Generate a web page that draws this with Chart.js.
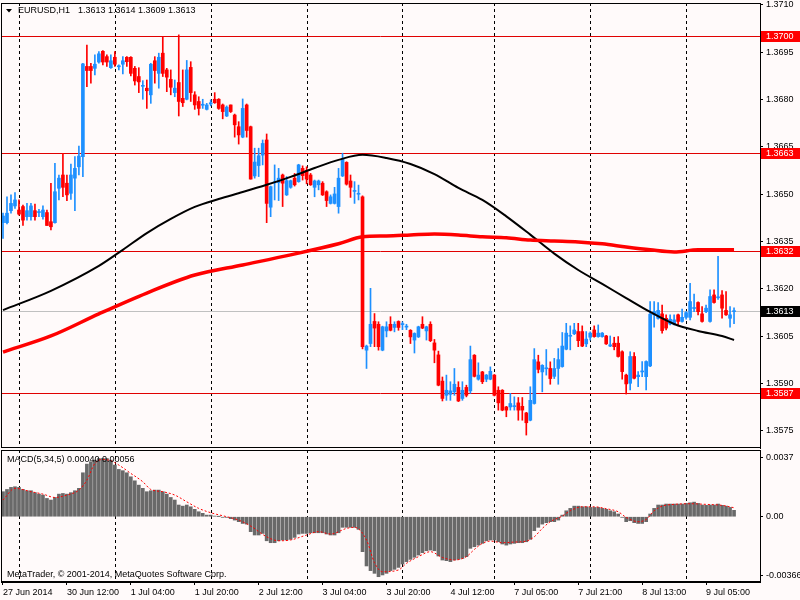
<!DOCTYPE html>
<html lang="en">
<head>
<meta charset="UTF-8">
<title>EURUSD,H1</title>
<script src="https://cdn.jsdelivr.net/npm/chart.js"></script>
<style>
  html, body { margin: 0; padding: 0; background: #fffafa; }
  #wrap { position: relative; width: 800px; height: 600px; background: #fffafa; overflow: hidden; }
  canvas { position: absolute; left: 0; }
  #priceChart { top: 0; }
  #macdChart { top: 448px; }
</style>
</head>
<body>
<div id="wrap">
  <canvas id="priceChart" width="800" height="450"></canvas>
  <canvas id="macdChart" width="800" height="152"></canvas>
</div>
<script>
// hourly candles, 27 Jun 20:00 .. 9 Jul 11:00
const opens = [
  1.36410,1.36410,1.36448,1.36463,1.36450,1.36461,1.36429,1.36429,1.36448,1.36442,
  1.36429,1.36442,1.36413,1.36410,1.36519,1.36561,1.36535,1.36503,1.36551,1.36587,
  1.36619,1.36905,1.36905,1.36899,1.36919,1.36953,1.36936,1.36901,1.36934,1.36904,
  1.36912,1.36934,1.36934,1.36899,1.36873,1.36842,1.36836,1.36815,1.36923,1.36883,
  1.36947,1.36894,1.36864,1.36822,1.36854,1.36804,1.36801,1.36902,1.36815,1.36794,
  1.36782,1.36769,1.36786,1.36801,1.36801,1.36783,1.36748,1.36783,1.36751,1.36714,
  1.36681,1.36783,1.36714,1.36558,1.36591,1.36624,1.36672,1.36459,1.36536,1.36537,
  1.36561,1.36498,1.36522,1.36551,1.36540,1.36582,1.36575,1.36561,1.36522,1.36530,
  1.36535,1.36508,1.36471,1.36471,1.36461,1.36558,1.36601,1.36542,1.36509,1.36500,
  1.36492,1.36006,1.36027,1.36097,1.36088,1.36006,1.36067,1.36088,1.36078,1.36097,
  1.36087,1.36079,1.36069,1.36038,1.36048,1.36088,1.36067,1.36088,1.36029,1.35991,
  1.35908,1.35863,1.35866,1.35874,1.35888,1.35853,1.35888,1.35877,1.35990,1.35914,
  1.35937,1.35914,1.35914,1.35927,1.35879,1.35879,1.35826,1.35826,1.35827,1.35839,
  1.35828,1.35807,1.35784,1.35837,1.35969,1.35937,1.35947,1.35948,1.35923,1.35948,
  1.35954,1.36009,1.36050,1.36058,1.36065,1.36065,1.36026,1.36047,1.36070,1.36049,
  1.36049,1.36051,1.36019,1.36028,1.36028,1.36001,1.35927,1.35901,1.35986,1.35922,
  1.35937,1.35922,1.35956,1.36118,1.36107,1.36121,1.36107,1.36089,1.36089,1.36118,
  1.36097,1.36110,1.36110,1.36138,1.36157,1.36121,1.36128,1.36097,1.36181,1.36172,
  1.36181,1.36132,1.36107,1.36128
];
const highs = [
  1.36440,1.36492,1.36498,1.36505,1.36482,1.36466,1.36471,1.36471,1.36469,1.36452,
  1.36463,1.36450,1.36535,1.36598,1.36561,1.36630,1.36561,1.36596,1.36619,1.36653,
  1.36915,1.36973,1.36915,1.36942,1.36952,1.36955,1.36942,1.36942,1.36952,1.36910,
  1.36936,1.36936,1.36936,1.36905,1.36901,1.36860,1.36862,1.36915,1.36936,1.36947,
  1.36998,1.36899,1.36894,1.36862,1.37005,1.36894,1.36924,1.36920,1.36825,1.36809,
  1.36801,1.36788,1.36799,1.36822,1.36803,1.36786,1.36780,1.36783,1.36754,1.36730,
  1.36802,1.36786,1.36716,1.36646,1.36646,1.36672,1.36691,1.36526,1.36593,1.36582,
  1.36564,1.36556,1.36545,1.36566,1.36595,1.36590,1.36587,1.36566,1.36545,1.36545,
  1.36540,1.36511,1.36498,1.36522,1.36582,1.36630,1.36603,1.36561,1.36540,1.36529,
  1.36495,1.36022,1.36202,1.36122,1.36096,1.36082,1.36096,1.36112,1.36096,1.36099,
  1.36096,1.36088,1.36071,1.36061,1.36082,1.36112,1.36082,1.36096,1.36040,1.36003,
  1.35921,1.35927,1.35906,1.35948,1.35906,1.35906,1.35895,1.36019,1.35992,1.35966,
  1.35939,1.35929,1.35953,1.35929,1.35890,1.35881,1.35828,1.35869,1.35858,1.35856,
  1.35856,1.35809,1.35890,1.36011,1.35990,1.35960,1.36008,1.35969,1.35980,1.36011,
  1.36062,1.36091,1.36083,1.36091,1.36091,1.36083,1.36065,1.36064,1.36083,1.36086,
  1.36062,1.36053,1.36051,1.36047,1.36049,1.36004,1.35930,1.36001,1.35998,1.35938,
  1.35970,1.35972,1.36160,1.36160,1.36157,1.36149,1.36118,1.36118,1.36118,1.36120,
  1.36136,1.36128,1.36218,1.36184,1.36159,1.36144,1.36149,1.36197,1.36197,1.36303,
  1.36195,1.36192,1.36144,1.36140
];
const lows = [
  1.36360,1.36406,1.36440,1.36455,1.36434,1.36401,1.36418,1.36418,1.36418,1.36429,
  1.36421,1.36401,1.36387,1.36408,1.36482,1.36492,1.36480,1.36484,1.36448,1.36561,
  1.36556,1.36841,1.36852,1.36878,1.36915,1.36910,1.36905,1.36899,1.36905,1.36894,
  1.36881,1.36905,1.36875,1.36846,1.36822,1.36801,1.36772,1.36788,1.36852,1.36836,
  1.36873,1.36825,1.36815,1.36809,1.36748,1.36778,1.36799,1.36794,1.36769,1.36751,
  1.36772,1.36767,1.36780,1.36788,1.36769,1.36739,1.36746,1.36759,1.36681,1.36659,
  1.36679,1.36681,1.36548,1.36551,1.36556,1.36593,1.36410,1.36429,1.36482,1.36480,
  1.36461,1.36496,1.36519,1.36526,1.36538,1.36545,1.36533,1.36528,1.36492,1.36514,
  1.36496,1.36461,1.36469,1.36469,1.36440,1.36556,1.36529,1.36490,1.36471,1.36482,
  1.36010,1.35948,1.36017,1.36017,1.36006,1.36004,1.36048,1.36067,1.36064,1.36069,
  1.36071,1.36071,1.36027,1.35997,1.36046,1.36074,1.36038,1.36033,1.35966,1.35893,
  1.35845,1.35847,1.35847,1.35863,1.35843,1.35847,1.35858,1.35869,1.35921,1.35911,
  1.35900,1.35906,1.35912,1.35861,1.35816,1.35814,1.35795,1.35816,1.35816,1.35784,
  1.35784,1.35737,1.35782,1.35835,1.35934,1.35874,1.35927,1.35898,1.35916,1.35898,
  1.35952,1.36007,1.36007,1.36055,1.36017,1.36017,1.36017,1.36038,1.36047,1.36047,
  1.36047,1.36024,1.36017,1.36007,1.35984,1.35914,1.35867,1.35880,1.35915,1.35890,
  1.35922,1.35880,1.35954,1.36079,1.36104,1.36060,1.36070,1.36086,1.36086,1.36086,
  1.36095,1.36104,1.36102,1.36128,1.36118,1.36095,1.36125,1.36095,1.36155,1.36167,
  1.36107,1.36116,1.36079,1.36090
];
const closes = [
  1.36431,1.36440,1.36471,1.36482,1.36437,1.36418,1.36448,1.36463,1.36429,1.36445,
  1.36450,1.36401,1.36397,1.36508,1.36551,1.36522,1.36498,1.36561,1.36582,1.36621,
  1.36913,1.36892,1.36892,1.36912,1.36945,1.36919,1.36919,1.36923,1.36912,1.36906,
  1.36923,1.36920,1.36883,1.36859,1.36856,1.36844,1.36828,1.36912,1.36892,1.36934,
  1.36883,1.36871,1.36839,1.36836,1.36794,1.36790,1.36894,1.36822,1.36783,1.36772,
  1.36784,1.36783,1.36790,1.36790,1.36772,1.36762,1.36776,1.36762,1.36720,1.36688,
  1.36772,1.36702,1.36548,1.36602,1.36622,1.36661,1.36471,1.36524,1.36538,1.36551,
  1.36535,1.36543,1.36543,1.36530,1.36593,1.36559,1.36548,1.36530,1.36542,1.36542,
  1.36498,1.36480,1.36492,1.36501,1.36551,1.36611,1.36532,1.36522,1.36511,1.36502,
  1.36017,1.36019,1.36088,1.36076,1.36017,1.36080,1.36080,1.36069,1.36088,1.36078,
  1.36089,1.36081,1.36048,1.36059,1.36080,1.36076,1.36080,1.36036,1.36006,1.35895,
  1.35853,1.35879,1.35877,1.35898,1.35845,1.35879,1.35863,1.35976,1.35923,1.35927,
  1.35906,1.35927,1.35939,1.35863,1.35839,1.35816,1.35816,1.35837,1.35829,1.35816,
  1.35816,1.35776,1.35847,1.35976,1.35945,1.35958,1.35949,1.35916,1.35948,1.35976,
  1.36019,1.36060,1.36052,1.36070,1.36036,1.36019,1.36041,1.36060,1.36049,1.36060,
  1.36060,1.36026,1.36023,1.36017,1.35986,1.35938,1.35899,1.35986,1.35917,1.35927,
  1.35939,1.35970,1.36120,1.36128,1.36132,1.36068,1.36076,1.36104,1.36102,1.36097,
  1.36110,1.36125,1.36160,1.36140,1.36128,1.36097,1.36139,1.36176,1.36157,1.36174,
  1.36139,1.36118,1.36118,1.36131
];

// moving averages read at sampled bars
const maBlackBars = [0,12,24,30,36,42,48,54,60,66,72,78,84,90,96,102,108,114,120,126,132,138,144,150,156,162,168,174,180,183];
const maBlackValues = [1.36133,1.36194,1.36273,1.36324,1.36377,1.36422,1.36460,1.36485,1.36507,1.36530,1.36555,1.36583,1.36609,1.36625,1.36615,1.36596,1.36564,1.36520,1.36482,1.36430,1.36372,1.36312,1.36260,1.36216,1.36171,1.36127,1.36089,1.36067,1.36051,1.36038];
const maRedBars = [0,12,24,36,48,60,72,84,90,96,102,108,114,120,126,132,138,144,150,156,162,168,174,180,183];
const maRedValues = [1.36000,1.36051,1.36121,1.36187,1.36244,1.36276,1.36308,1.36343,1.36365,1.36368,1.36371,1.36374,1.36371,1.36365,1.36362,1.36355,1.36352,1.36349,1.36343,1.36333,1.36324,1.36317,1.36324,1.36324,1.36324];

// MACD(5,34,5)
const macdMain = [
  0.00156,0.00170,0.00183,0.00187,0.00183,0.00170,0.00162,0.00162,0.00150,0.00141,
  0.00135,0.00114,0.00104,0.00120,0.00141,0.00145,0.00141,0.00150,0.00162,0.00177,
  0.00274,0.00328,0.00343,0.00353,0.00363,0.00363,0.00363,0.00353,0.00322,0.00295,
  0.00287,0.00274,0.00249,0.00224,0.00197,0.00177,0.00156,0.00162,0.00166,0.00166,
  0.00156,0.00141,0.00120,0.00104,0.00073,0.00066,0.00073,0.00062,0.00046,0.00031,
  0.00021,0.00010,0.00010,0.00004,0.00001,-0.00004,-0.00004,-0.00012,-0.00021,-0.00031,
  -0.00042,-0.00046,-0.00093,-0.00114,-0.00114,-0.00104,-0.00150,-0.00162,-0.00162,-0.00150,
  -0.00145,-0.00145,-0.00141,-0.00129,-0.00108,-0.00104,-0.00104,-0.00100,-0.00100,-0.00100,
  -0.00100,-0.00108,-0.00114,-0.00114,-0.00100,-0.00066,-0.00066,-0.00066,-0.00066,-0.00079,
  -0.00218,-0.00307,-0.00336,-0.00353,-0.00374,-0.00363,-0.00353,-0.00336,-0.00328,-0.00316,
  -0.00295,-0.00280,-0.00266,-0.00253,-0.00239,-0.00224,-0.00212,-0.00208,-0.00212,-0.00245,
  -0.00270,-0.00274,-0.00280,-0.00270,-0.00266,-0.00260,-0.00249,-0.00197,-0.00187,-0.00177,
  -0.00166,-0.00150,-0.00145,-0.00145,-0.00156,-0.00170,-0.00177,-0.00170,-0.00166,-0.00162,
  -0.00162,-0.00156,-0.00141,-0.00087,-0.00066,-0.00046,-0.00037,-0.00031,-0.00031,-0.00021,
  0.00010,0.00037,0.00052,0.00066,0.00066,0.00062,0.00062,0.00058,0.00058,0.00058,
  0.00052,0.00046,0.00037,0.00031,0.00017,-0.00004,-0.00031,-0.00025,-0.00037,-0.00042,
  -0.00042,-0.00031,0.00017,0.00052,0.00073,0.00073,0.00079,0.00079,0.00079,0.00079,
  0.00079,0.00083,0.00087,0.00091,0.00083,0.00073,0.00071,0.00073,0.00073,0.00079,
  0.00071,0.00066,0.00058,0.00040
];
const signalBars = [0,3,7,10,13,16,19,21,23,25,27,29,32,35,37,40,43,46,49,52,56,59,62,66,69,72,76,79,82,86,88,91,93,95,99,101,104,107,110,113,116,118,120,122,125,128,131,133,135,137,140,142,145,148,151,154,156,159,161,163,165,168,172,176,180,183];
const signalValues = [0.00104,0.00177,0.00156,0.00141,0.00120,0.00135,0.00166,0.00228,0.00332,0.00357,0.00349,0.00322,0.00270,0.00218,0.00170,0.00156,0.00135,0.00093,0.00052,0.00025,0.00000,-0.00021,-0.00058,-0.00125,-0.00150,-0.00145,-0.00114,-0.00093,-0.00108,-0.00073,-0.00066,-0.00145,-0.00287,-0.00343,-0.00332,-0.00291,-0.00249,-0.00218,-0.00254,-0.00270,-0.00249,-0.00204,-0.00166,-0.00152,-0.00162,-0.00158,-0.00152,-0.00125,-0.00073,-0.00031,0.00004,0.00037,0.00062,0.00062,0.00050,0.00031,-0.00004,-0.00031,-0.00017,0.00037,0.00066,0.00077,0.00081,0.00077,0.00071,0.00056];

// axes
const timeTickBars = [0,16,32,48,64,80,96,112,128,144,160,176];
const timeTickLabels = ['27 Jun 2014','30 Jun 12:00','1 Jul 04:00','1 Jul 20:00','2 Jul 12:00','3 Jul 04:00','3 Jul 20:00','4 Jul 12:00','7 Jul 05:00','7 Jul 21:00','8 Jul 13:00','9 Jul 05:00'];
const dayStartBars = [4,28,52,76,100,123,147,171];
const priceTicks = [1.3575,1.3590,1.3605,1.3620,1.3635,1.3650,1.3665,1.3680,1.3695,1.3710];
const macdTicks = [-0.00366,0,0.0037];
const macdTickLabels = ['-0.00366','0.00','0.0037'];
const levelLines = [1.3700,1.3663,1.3632,1.3587];
const lastPrice = 1.3613;

const slotCount = 190; // room on the right like the terminal shift
const N = opens.length;
const labels = [];
for (let i = 0; i < slotCount; i++) labels.push(i);

const FONT = '9px "Liberation Sans", Arial, sans-serif';
const BULL = '#1e90ff', BEAR = '#ff0000';
const candleColors = opens.map((o, i) => closes[i] > o ? BULL : BEAR);

function sparse(bars, values) {
  const arr = new Array(N).fill(null);
  bars.forEach((b, k) => { arr[b] = values[k]; });
  return arr;
}

function dayLines(chart) {
  const { ctx, chartArea, scales } = chart;
  ctx.save();
  ctx.strokeStyle = '#000';
  ctx.lineWidth = 1;
  ctx.setLineDash([3, 3]);
  dayStartBars.forEach(b => {
    const px = Math.round(scales.x.getPixelForValue(b)) + 0.5;
    ctx.beginPath();
    ctx.moveTo(px, chartArea.top);
    ctx.lineTo(px, chartArea.bottom);
    ctx.stroke();
  });
  ctx.restore();
}

function frame(chart) {
  const { ctx, chartArea: a } = chart;
  ctx.save();
  ctx.strokeStyle = '#000';
  ctx.lineWidth = 1;
  ctx.strokeRect(a.left + 0.5, a.top + 0.5, a.right - a.left, a.bottom - a.top - 1);
  ctx.restore();
}

function fixAxisWidth(scale) {
  scale.width = 40;
  scale.paddingTop = 0;
  scale.paddingBottom = 0;
}

const pricePlugin = {
  id: 'priceDecor',
  beforeDatasetsDraw(chart) {
    const { ctx, chartArea: a, scales: { y } } = chart;
    dayLines(chart);
    ctx.save();
    ctx.lineWidth = 1;
    ctx.strokeStyle = '#c0c0c0';
    let py = Math.round(y.getPixelForValue(lastPrice)) + 0.5;
    ctx.beginPath(); ctx.moveTo(a.left, py); ctx.lineTo(a.right, py); ctx.stroke();
    ctx.strokeStyle = '#e00000';
    levelLines.forEach(v => {
      py = Math.round(y.getPixelForValue(v)) + 0.5;
      ctx.beginPath(); ctx.moveTo(a.left, py); ctx.lineTo(a.right, py); ctx.stroke();
    });
    ctx.restore();
  },
  afterDraw(chart) {
    const { ctx, scales: { y } } = chart;
    frame(chart);
    ctx.save();
    ctx.font = FONT;
    ctx.textBaseline = 'middle';
    const box = (v, bg) => {
      const py = Math.round(y.getPixelForValue(v));
      ctx.fillStyle = bg;
      ctx.fillRect(761, py - 5, 39, 11);
      ctx.fillStyle = '#fff';
      ctx.fillText(v.toFixed(4), 766, py + 0.5);
    };
    levelLines.forEach(v => box(v, '#ff0000'));
    box(lastPrice, '#000');
    // header
    ctx.fillStyle = '#000';
    ctx.beginPath();
    ctx.moveTo(6, 9); ctx.lineTo(12, 9); ctx.lineTo(9, 12.5); ctx.closePath();
    ctx.fill();
    ctx.fillText('EURUSD,H1', 18, 11);
    ctx.fillText('1.3613 1.3614 1.3609 1.3613', 78, 11);
    ctx.restore();
  }
};

const macdPlugin = {
  id: 'macdDecor',
  beforeDatasetsDraw(chart) { dayLines(chart); },
  afterDraw(chart) {
    const { ctx } = chart;
    frame(chart);
    ctx.save();
    ctx.font = FONT;
    ctx.fillStyle = '#000';
    ctx.textBaseline = 'middle';
    ctx.fillText('MACD(5,34,5) 0.00040 0.00056', 7, 12);
    ctx.fillText('MetaTrader, \u00a9 2001-2014, MetaQuotes Software Corp.', 7, 127);
    ctx.restore();
  }
};

Chart.defaults.font.family = '"Liberation Sans", Arial, sans-serif';
Chart.defaults.font.size = 9;
Chart.defaults.color = '#000';

new Chart(document.getElementById('priceChart'), {
  type: 'bar',
  data: {
    labels: labels,
    datasets: [
      {
        type: 'line', data: sparse(maBlackBars, maBlackValues), borderColor: '#000',
        borderWidth: 2, pointRadius: 0, spanGaps: true, cubicInterpolationMode: 'monotone', order: 1
      },
      {
        type: 'line', data: sparse(maRedBars, maRedValues), borderColor: '#ff0000',
        borderWidth: 3.5, pointRadius: 0, spanGaps: true, cubicInterpolationMode: 'monotone', order: 0
      },
      {
        data: lows.map((l, i) => [l, highs[i]]), backgroundColor: candleColors,
        barThickness: 1, grouped: false, order: 3
      },
      {
        data: opens.map((o, i) => [o, closes[i]]), backgroundColor: candleColors,
        barThickness: 3, minBarLength: 1, grouped: false, order: 2
      }
    ]
  },
  options: {
    responsive: false,
    animation: false,
    devicePixelRatio: 1,
    layout: { padding: { left: 1, top: 3, right: 0, bottom: 2 } },
    plugins: { legend: { display: false }, tooltip: { enabled: false } },
    scales: {
      x: { display: false, offset: true },
      y: {
        position: 'right',
        min: 1.35696,
        max: 1.37106,
        afterFit: fixAxisWidth,
        afterBuildTicks: s => { s.ticks = priceTicks.map(v => ({ value: v })); },
        ticks: { callback: v => v.toFixed(4), padding: 3, color: '#000', font: { size: 9 } },
        grid: { drawOnChartArea: false, drawTicks: true, tickLength: 3, color: '#000' },
        border: { display: true, color: '#000' }
      }
    }
  },
  plugins: [pricePlugin]
});

new Chart(document.getElementById('macdChart'), {
  type: 'bar',
  data: {
    labels: labels,
    datasets: [
      {
        type: 'line', data: sparse(signalBars, signalValues), borderColor: '#ff0000',
        borderWidth: 1, borderDash: [2, 2], pointRadius: 0, spanGaps: true,
        cubicInterpolationMode: 'monotone', order: 0
      },
      { data: macdMain, backgroundColor: '#696969', barThickness: 3, order: 1 }
    ]
  },
  options: {
    responsive: false,
    animation: false,
    devicePixelRatio: 1,
    layout: { padding: { left: 1, top: 2, right: 0, bottom: 0 } },
    plugins: { legend: { display: false }, tooltip: { enabled: false } },
    scales: {
      x: {
        offset: true,
        afterFit: s => { s.height = 18; s.paddingLeft = 0; s.paddingRight = 0; },
        afterBuildTicks: s => { s.ticks = timeTickBars.map(v => ({ value: v })); },
        ticks: {
          autoSkip: false, maxRotation: 0, align: 'start', padding: 2, color: '#000',
          callback: (v, i) => timeTickLabels[i]
        },
        grid: { drawOnChartArea: false, drawTicks: true, tickLength: 3, color: '#000', offset: false },
        border: { display: true, color: '#000' }
      },
      y: {
        position: 'right',
        min: -0.00407,
        max: 0.00416,
        afterFit: fixAxisWidth,
        afterBuildTicks: s => { s.ticks = macdTicks.map(v => ({ value: v })); },
        ticks: { callback: (v, i) => macdTickLabels[i], padding: 3, color: '#000' },
        grid: { drawOnChartArea: false, drawTicks: true, tickLength: 3, color: '#000' },
        border: { display: true, color: '#000' }
      }
    }
  },
  plugins: [macdPlugin]
});
</script>
</body>
</html>
